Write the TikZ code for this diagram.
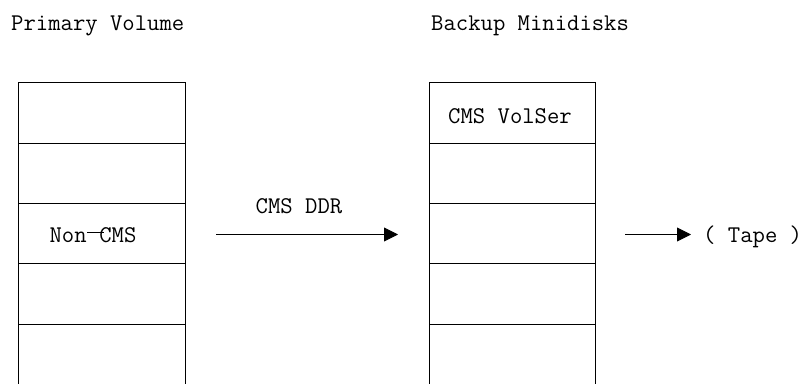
\documentclass[tikz,border=0pt]{standalone}
\usetikzlibrary{arrows.meta}
% a long dash that fills one typewriter cell and runs into the next letter
\newcommand{\longdash}{\makebox[0.525em][l]{\hspace{0.02em}\rule[0.37em]{0.68em}{0.05em}}}
\begin{document}
\begin{tikzpicture}[x=1pt,y=-1pt,
  lbl/.style={font=\fontsize{24}{27}\selectfont\ttfamily, inner sep=0pt, anchor=base},
  cell/.style={minimum width=166pt, minimum height=60.2pt, inner sep=0pt},
  frame/.style={line width=0.9pt},
  flow/.style={line width=0.9pt, -{Triangle[length=14pt,width=14pt]}}]
\useasboundingbox (0,0) rectangle (802,383);

% column headings
\node[lbl, anchor=base west] (hp) at (11,30) {Primary Volume};
\node[lbl, anchor=base west] (hb) at (431,30) {Backup Minidisks};

% primary volume cells
\foreach \i/\y in {1/113.1,2/173.3,3/233.5,4/293.7,5/353.9}
  \node[cell] (p\i) at (102,\y) {};
% backup minidisk cells
\foreach \i/\y in {1/113.1,2/173.3,3/233.5,4/293.7,5/353.9}
  \node[cell] (b\i) at (512.5,\y) {};

% column outlines, open at the bottom
\draw[frame] (p5.south west) -- (p1.north west) -- (p1.north east) -- (p5.south east);
\draw[frame] (b5.south west) -- (b1.north west) -- (b1.north east) -- (b5.south east);
\foreach \i in {1,...,4} {
  \draw[frame] (p\i.south west) -- (p\i.south east);
  \draw[frame] (b\i.south west) -- (b\i.south east);
}

% cell texts
\node[lbl] (nc) at (93,242) {Non\longdash CMS};
\node[lbl] (vs) at (510,123) {CMS VolSer};

% transfer arrows
\coordinate (a1s) at (216,234.5);
\coordinate (a1e) at (398,234.5);
\draw[flow] (a1s) -- (a1e);
\node[lbl] (ddr) at (299,213) {CMS DDR};

\coordinate (a2s) at (625,234.5);
\coordinate (a2e) at (691,234.5);
\draw[flow] (a2s) -- (a2e);
\node[lbl, anchor=base west] (tp) at (703,242) {( Tape )};
\end{tikzpicture}
\end{document}
